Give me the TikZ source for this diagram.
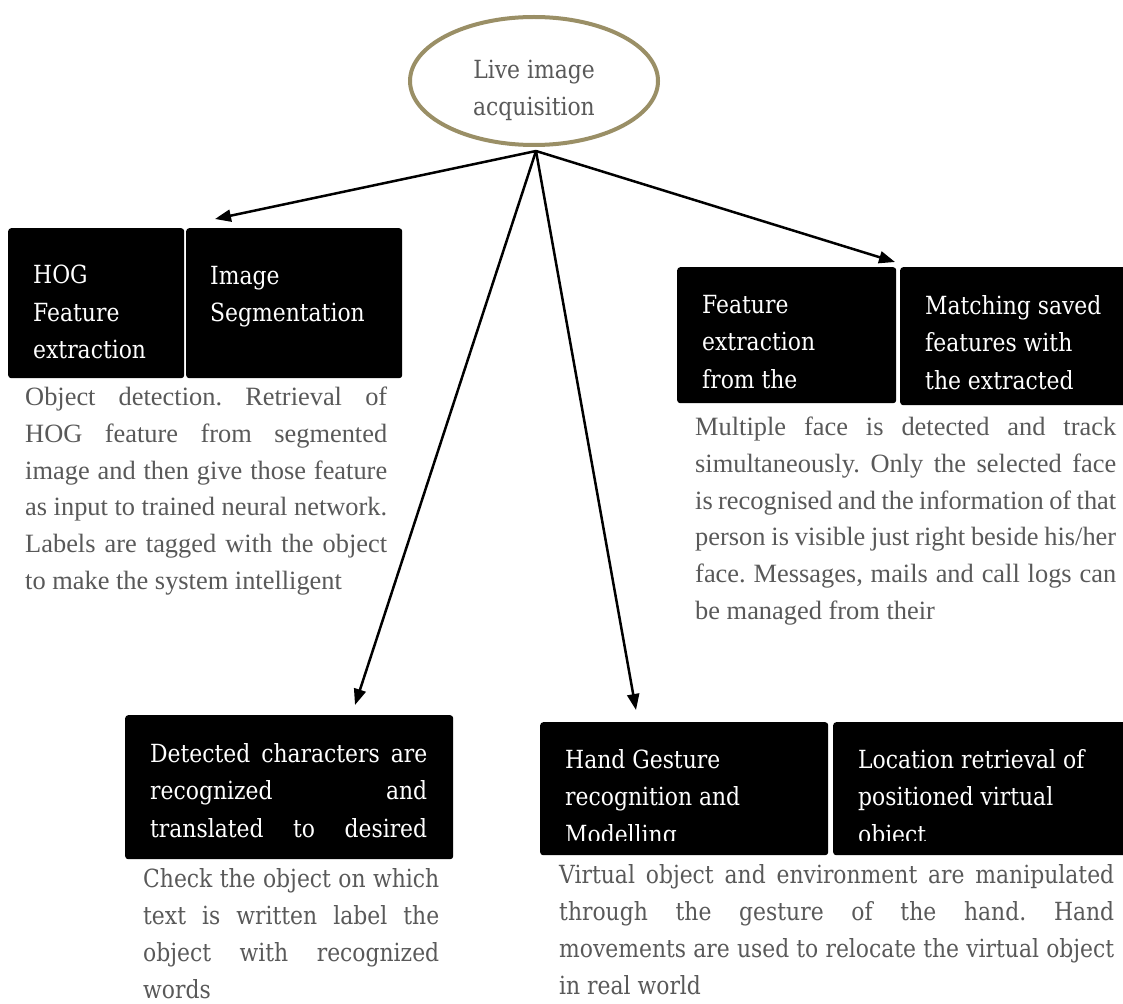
\documentclass[tikz,border=0pt]{standalone}
\usepackage{fontspec}
\setmainfont{Liberation Serif}
\newfontfamily\camf[FakeStretch=0.875]{DejaVu Serif}
\usetikzlibrary{shapes.geometric,arrows.meta}
\definecolor{captxt}{RGB}{89,89,89}
\definecolor{ellcol}{RGB}{154,143,102}
\newcommand\jl[2]{\makebox[#1][s]{#2}}
\frenchspacing
\begin{document}
\begin{tikzpicture}[x=1pt,y=-1pt,
  blk/.style={fill=black, rounded corners=3pt, inner sep=0pt, anchor=north west},
  btxt/.style={text=white, font=\camf\fontsize{25}{37.5}\selectfont, align=left, inner sep=0pt, anchor=north west},
  ctimes/.style={text=captxt, font=\fontsize{26.4}{36.7}\selectfont, align=left, inner sep=0pt, anchor=north west},
  ccam/.style={text=captxt, font=\camf\fontsize{25}{37}\selectfont, align=left, inner sep=0pt, anchor=north west},
  arr/.style={-{Triangle[length=16pt,width=12pt]}, line width=2.5pt}]
\useasboundingbox[fill=white] (0,0) rectangle (1123,1003);

% central ellipse
\node[ellipse, draw=ellcol, line width=4pt, minimum width=248pt, minimum height=128pt, inner sep=0pt] (live) at (534,81) {};
\node[text=captxt, font=\camf\fontsize{25}{37}\selectfont, align=center, inner sep=0pt] (livet) at (534,90.5) {Live image\\acquisition};

% black boxes
\node[blk, minimum width=176pt, minimum height=150pt] (hog) at (8,228) {};
\node[blk, minimum width=216pt, minimum height=150pt] (seg) at (186,228) {};
\node[blk, minimum width=219pt, minimum height=136pt] (fex) at (677,267) {};
\node[blk, minimum width=230pt, minimum height=138pt] (mat) at (900,267) {};
\node[blk, minimum width=328pt, minimum height=144pt] (det) at (125,715) {};
\node[blk, minimum width=288pt, minimum height=133pt] (hand) at (540,722) {};
\node[blk, minimum width=295pt, minimum height=133pt] (loc) at (833,722) {};

% box texts
\node[btxt] (hogt) at (33,265) {HOG\\Feature\\extraction};
\node[btxt] (segt) at (210,266) {Image\\Segmentation};
\node[btxt] (fext) at (702,295) {Feature\\extraction\\from the};
\node[btxt] (matt) at (925,295) {Matching saved\\features with\\the extracted};
\node[btxt] (dett) at (150,743) {\jl{277pt}{Detected characters are}\\\jl{277pt}{recognized and}\\\jl{277pt}{translated to desired}};
\begin{scope}
\clip (540,722) rectangle (1123,840);
\node[btxt] (handt) at (565,749) {Hand Gesture\\recognition and\\Modelling};
\node[btxt] (loct) at (858,749) {Location retrieval of\\positioned virtual\\object};
\end{scope}

% captions
\node[ctimes] (cap1) at (25,387) {\jl{362pt}{Object detection. Retrieval of}\\\jl{362pt}{HOG feature from segmented}\\\jl{362pt}{image and then give those feature}\\\jl{362pt}{as input to trained neural network.}\\\jl{362pt}{Labels are tagged with the object}\\to make the system intelligent};
\node[ctimes] (cap2) at (695,417) {\jl{421pt}{Multiple face is detected and track}\\\jl{421pt}{simultaneously. Only the selected face}\\\jl{421pt}{is recognised and the information of that}\\\jl{421pt}{person is visible just right beside his/her}\\\jl{421pt}{face. Messages, mails and call logs can}\\be managed from their};
\node[ccam] (cap3) at (143,868) {\jl{296pt}{Check the object on which}\\\jl{296pt}{text is written label the}\\\jl{296pt}{object with recognized}\\words};
\node[ccam] (cap4) at (559,864) {\jl{555pt}{Virtual object and environment are manipulated}\\\jl{555pt}{through the gesture of the hand. Hand}\\\jl{555pt}{movements are used to relocate the virtual object}\\in real world};

% arrows
\coordinate (src) at ([xshift=2pt,yshift=-4pt]live.south);
\coordinate (e1) at (215,219);
\coordinate (e2) at (895,262);
\coordinate (e3) at (355,705);
\coordinate (e4) at (636,710);
\draw[arr] (src) -- (e1);
\draw[arr] (src) -- (e2);
\draw[arr] (src) -- (e3);
\draw[arr] (src) -- (e4);
\end{tikzpicture}
\end{document}
